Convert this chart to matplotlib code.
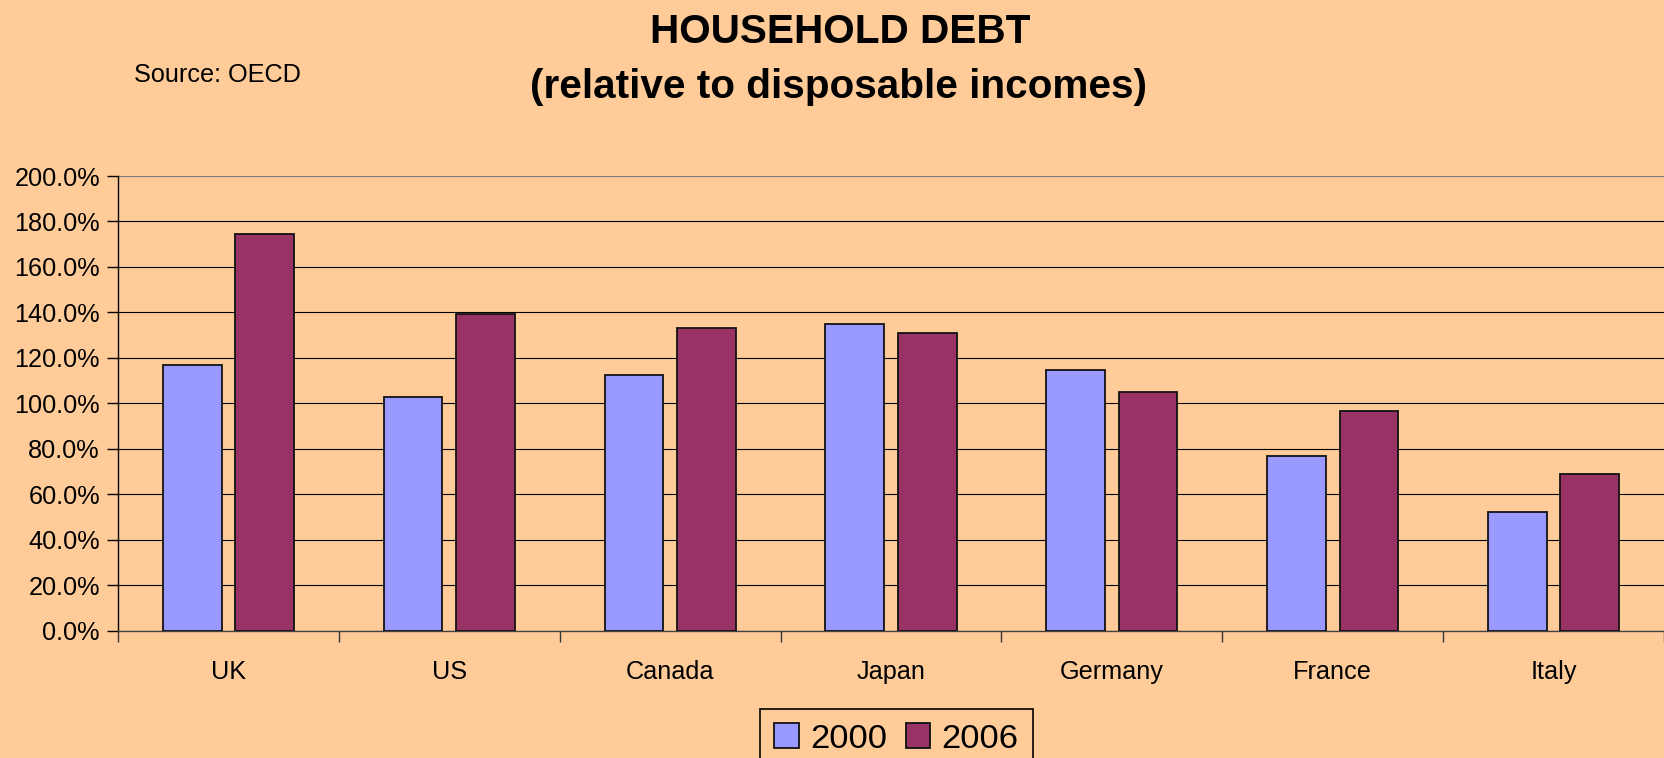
import matplotlib
matplotlib.use("Agg")
import matplotlib.pyplot as plt
import numpy as np
from matplotlib.patches import Patch
from matplotlib.ticker import FixedLocator, FuncFormatter

countries = ["UK", "US", "Canada", "Japan", "Germany", "France", "Italy"]
debt_2000 = [116.8, 102.9, 112.5, 134.9, 114.8, 76.9, 52.4]
debt_2006 = [174.7, 139.3, 133.3, 131.1, 105.1, 96.8, 68.9]
series_labels = ["2000", "2006"]
yticks = [0, 20, 40, 60, 80, 100, 120, 140, 160, 180, 200]

BG = "#FFCC99"
C2000 = "#9999FF"
C2006 = "#993366"

plt.rcParams["font.family"] = ["Liberation Sans", "DejaVu Sans"]

W, H = 1664, 758
fig = plt.figure(figsize=(W / 100, H / 100), dpi=100, facecolor=BG)
ax = fig.add_axes([118 / W, 1 - 630.7 / H, 1 - 118 / W, (630.7 - 176) / H])
ax.set_facecolor(BG)

x = np.arange(len(countries))
bw = 0.266
off = 0.164
ax.bar(x - off, debt_2000, bw, color=C2000, edgecolor="#111111", linewidth=1.3, zorder=3)
ax.bar(x + off, debt_2006, bw, color=C2006, edgecolor="#111111", linewidth=1.3, zorder=3)

ax.set_xlim(-0.5, len(countries) - 0.5)
ax.set_ylim(0, 200)
ax.set_yticks(yticks)
ax.yaxis.set_major_formatter(FuncFormatter(lambda v, p: f"{v:.1f}%"))
ax.tick_params(axis="y", length=8, width=1, color="black", pad=5, labelsize=18.2)

ax.set_xticks(x)
ax.set_xticklabels(countries)
ax.xaxis.set_minor_locator(FixedLocator(np.arange(len(countries) + 1) - 0.5))
ax.tick_params(axis="x", which="major", length=0, pad=21, labelsize=18.2)
ax.tick_params(axis="x", which="minor", length=8, width=1, color="#333333")

ax.grid(axis="y", color="black", linewidth=0.8, zorder=1)
for s in ["top", "right"]:
    ax.spines[s].set_visible(False)
ax.spines["left"].set_color("black")
ax.spines["left"].set_linewidth(1)
ax.spines["bottom"].set_color("#444444")
ax.spines["bottom"].set_linewidth(1)
ax.axhline(200, color="#999999", linewidth=1.2, zorder=2)

fig.text(840 / W, 1 - 43.3 / H, "HOUSEHOLD DEBT", ha="center", va="baseline",
         fontsize=29.2, fontweight="bold")
fig.text(839 / W, 1 - 98 / H, "(relative to disposable incomes)", ha="center",
         va="baseline", fontsize=29.2, fontweight="bold")
fig.text(134 / W, 1 - 81.7 / H, "Source: OECD", ha="left", va="baseline", fontsize=18.2)

handles = [Patch(facecolor=C2000, edgecolor="#111111", linewidth=1.3),
           Patch(facecolor=C2006, edgecolor="#111111", linewidth=1.3)]
leg = fig.legend(handles, series_labels, loc="upper left",
                 bbox_to_anchor=(760 / W, 1 - 709 / H), ncol=2,
                 fontsize=24.8, frameon=True, fancybox=False, borderpad=0.42,
                 handlelength=0.7, handleheight=0.7, handletextpad=0.33,
                 columnspacing=0.55, borderaxespad=0)
leg.get_frame().set_facecolor(BG)
leg.get_frame().set_edgecolor("black")
leg.get_frame().set_linewidth(1.2)
leg.get_frame().set_alpha(1)

fig.savefig("out.png", dpi=100, facecolor=BG)
